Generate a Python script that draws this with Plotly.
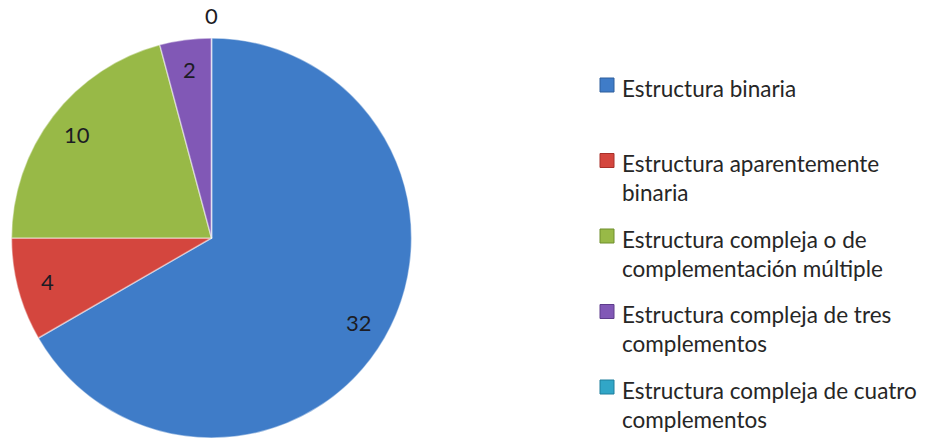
import math
import textwrap
import plotly.graph_objects as go

# Data
categories = [
    "Estructura binaria",
    "Estructura aparentemente binaria",
    "Estructura compleja o de complementación múltiple",
    "Estructura compleja de tres complementos",
    "Estructura compleja de cuatro complementos",
]
counts = [32, 4, 10, 2, 0]
colors = ["#3F7CC8", "#D4463E", "#98B947", "#8158B6", "#31A6C7"]
edge_colors = ["#2F5E9C", "#A8302A", "#6F8E2C", "#5E3C8C", "#1F7F9C"]

W, H = 926, 440
PIE_CX, PIE_CY, PIE_R = 211.5, 238.0, 200.0   # pixels
FONT = "Lato"

def px_to_paper(x, y):
    return x / W, 1 - y / H

x0, y0 = px_to_paper(PIE_CX - PIE_R, PIE_CY + PIE_R)
x1, y1 = px_to_paper(PIE_CX + PIE_R, PIE_CY - PIE_R)

fig = go.Figure(
    go.Pie(
        labels=categories,
        values=counts,
        sort=False,
        direction="clockwise",
        rotation=0,
        textinfo="none",
        hoverinfo="label+value",
        marker=dict(colors=colors, line=dict(color="rgba(255,255,255,0.45)", width=1.5)),
        domain=dict(x=[x0, x1], y=[y0, y1]),
        showlegend=False,
    )
)

# Value labels placed along each slice's mid-angle
annotations = []
total = sum(counts)
cum = 0.0
for v in counts:
    mid = (cum + v / 2) / total * 2 * math.pi
    cum += v
    rf = 0.85 if v > 0 else 1.11
    px = PIE_CX + rf * PIE_R * math.sin(mid)
    py = PIE_CY - rf * PIE_R * math.cos(mid)
    ax, ay = px_to_paper(px, py)
    annotations.append(dict(
        x=ax, y=ay, xref="paper", yref="paper", text=str(v), showarrow=False,
        xanchor="center", yanchor="middle",
        font=dict(family=FONT, size=22, color="#1c1c24"),
    ))

# Legend drawn as squares and wrapped text
shapes = []
LEG_X_BOX, LEG_X_TEXT = 600, 620
LEG_Y0, LEG_STEP, LINE_H = 85, 75.5, 27
BOX = 14
for i, (cat, c, ec) in enumerate(zip(categories, colors, edge_colors)):
    yc = LEG_Y0 + i * LEG_STEP
    bx0, by0 = px_to_paper(LEG_X_BOX, yc + BOX / 2)
    bx1, by1 = px_to_paper(LEG_X_BOX + BOX, yc - BOX / 2)
    shapes.append(dict(type="rect", xref="paper", yref="paper",
                       x0=bx0, y0=by0, x1=bx1, y1=by1,
                       fillcolor=c, line=dict(color=ec, width=1)))
    tx, ty = px_to_paper(LEG_X_TEXT, yc - LINE_H / 2 + 1)
    annotations.append(dict(
        x=tx, y=ty, xref="paper", yref="paper",
        text="<br>".join(textwrap.wrap(cat, 29)), showarrow=False,
        xanchor="left", yanchor="top", align="left",
        font=dict(family=FONT, size=22.5, color="#262626"),
    ))

fig.update_layout(
    width=W, height=H,
    margin=dict(l=0, r=0, t=0, b=0),
    paper_bgcolor="white",
    plot_bgcolor="white",
    annotations=annotations,
    shapes=shapes,
)

fig.write_html("out.html")
